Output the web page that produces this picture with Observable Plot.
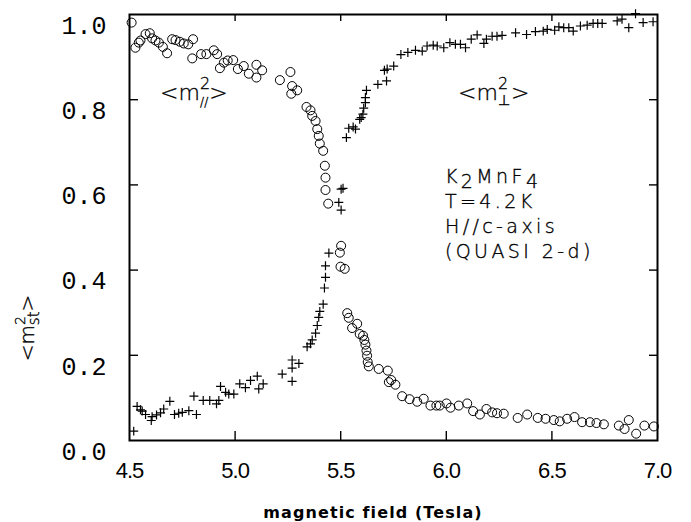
<!DOCTYPE html>
<html><head><meta charset="utf-8">
<script src="https://cdn.jsdelivr.net/npm/d3@7"></script>
<script src="https://cdn.jsdelivr.net/npm/@observablehq/plot@0.6"></script>
<style>
body{margin:0;background:#fff;}
</style></head><body><div id="chart"></div>
<script>
// tick values
const xTicks = [4.5, 5.0, 5.5, 6.0, 6.5, 7.0];
const yTicks = [0.0, 0.2, 0.4, 0.6, 0.8, 1.0];
const xInner = [5.0, 5.5, 6.0, 6.5];
const yInner = [0.2, 0.4, 0.6, 0.8];

// <m^2_par> (open circles)
const parX = [4.510,4.528,4.544,4.552,4.576,4.596,4.607,4.623,4.639,4.658,4.678,4.702,4.718,4.738,4.757,4.778,4.797,4.801,4.839,4.864,4.899,4.915,4.928,4.947,4.965,4.991,5.013,5.041,5.065,5.101,5.101,5.128,5.212,5.262,5.266,5.270,5.294,5.338,5.357,5.365,5.381,5.389,5.396,5.401,5.417,5.425,5.428,5.428,5.441,5.496,5.502,5.499,5.519,5.531,5.538,5.554,5.578,5.590,5.606,5.612,5.617,5.622,5.625,5.628,5.633,5.680,5.723,5.728,5.739,5.759,5.791,5.826,5.862,5.893,5.925,5.953,5.969,6.001,6.020,6.059,6.099,6.127,6.159,6.190,6.217,6.240,6.272,6.338,6.383,6.433,6.470,6.509,6.537,6.572,6.607,6.643,6.680,6.711,6.746,6.817,6.844,6.864,6.899,6.938,6.983];
const parY = [0.981,0.922,0.934,0.939,0.954,0.956,0.944,0.939,0.934,0.924,0.909,0.942,0.940,0.936,0.932,0.930,0.897,0.942,0.907,0.907,0.916,0.907,0.874,0.887,0.892,0.893,0.872,0.879,0.861,0.882,0.852,0.869,0.846,0.865,0.814,0.832,0.822,0.783,0.775,0.762,0.750,0.731,0.715,0.697,0.680,0.645,0.617,0.588,0.556,0.441,0.457,0.408,0.403,0.299,0.288,0.264,0.274,0.250,0.246,0.236,0.225,0.211,0.199,0.184,0.174,0.168,0.164,0.137,0.142,0.131,0.104,0.097,0.091,0.098,0.082,0.082,0.082,0.087,0.077,0.082,0.087,0.069,0.061,0.074,0.066,0.064,0.063,0.053,0.061,0.053,0.051,0.048,0.045,0.051,0.055,0.043,0.043,0.041,0.038,0.035,0.027,0.048,0.016,0.035,0.033];

// <m^2_perp> (plus signs)
const perpX = [4.520,4.536,4.552,4.560,4.576,4.603,4.607,4.628,4.647,4.662,4.691,4.713,4.733,4.750,4.781,4.805,4.817,4.849,4.880,4.912,4.923,4.931,4.955,4.970,4.994,5.022,5.049,5.073,5.105,5.112,5.133,5.223,5.270,5.270,5.270,5.302,5.341,5.357,5.365,5.381,5.389,5.396,5.401,5.417,5.423,5.428,5.428,5.444,5.491,5.502,5.502,5.511,5.527,5.538,5.559,5.570,5.590,5.597,5.605,5.609,5.617,5.617,5.622,5.676,5.707,5.717,5.720,5.751,5.785,5.818,5.854,5.886,5.909,5.938,5.957,5.988,6.017,6.043,6.067,6.091,6.118,6.146,6.178,6.190,6.217,6.240,6.264,6.328,6.380,6.422,6.459,6.478,6.513,6.533,6.556,6.580,6.601,6.635,6.667,6.695,6.717,6.738,6.809,6.832,6.864,6.896,6.932,6.979];
const perpY = [0.022,0.080,0.072,0.069,0.061,0.047,0.056,0.060,0.065,0.074,0.092,0.061,0.064,0.066,0.070,0.104,0.061,0.094,0.094,0.086,0.094,0.127,0.113,0.109,0.109,0.133,0.124,0.141,0.151,0.121,0.133,0.156,0.189,0.170,0.139,0.181,0.220,0.227,0.236,0.252,0.270,0.289,0.303,0.320,0.358,0.383,0.410,0.440,0.559,0.541,0.590,0.592,0.711,0.733,0.736,0.731,0.754,0.758,0.766,0.780,0.793,0.805,0.822,0.836,0.869,0.844,0.872,0.879,0.906,0.911,0.916,0.914,0.926,0.928,0.926,0.922,0.934,0.930,0.930,0.922,0.942,0.952,0.932,0.942,0.949,0.949,0.951,0.957,0.953,0.960,0.961,0.965,0.963,0.971,0.969,0.969,0.961,0.973,0.975,0.979,0.979,0.979,0.985,0.989,0.969,1.002,0.981,0.983];

const par = parX.map((x, i) => ({x, y: parY[i]}));
const perp = perpX.map((x, i) => ({x, y: perpY[i]}));

const W = 691, H = 522, mL = 129, mR = 34, mT = 14, mB = 82;
const fw = W - mL - mR, fh = H - mT - mB;
const fmt = d3.format(".1f");
const tickLine = {stroke: "black", strokeWidth: 1.4};
const plot = Plot.plot({
  width: W, height: H,
  marginLeft: mL, marginRight: mR, marginTop: mT, marginBottom: mB,
  x: {domain: [4.5, 7.0]},
  y: {domain: [0, 1.0]},
  marks: [
    // tick labels
    Plot.axisX({anchor: "bottom", ticks: xTicks, tickSize: 0, tickPadding: 22, tickFormat: fmt, label: null, fontSize: 22, fontFamily: "Liberation Sans", fill: "black"}),
    Plot.axisY({anchor: "left", ticks: yTicks, tickSize: 0, tickPadding: 23, tickFormat: fmt, label: null, fontSize: 25, fontFamily: "Liberation Mono", fill: "black"}),
    // data
    Plot.dot(par, {x: "x", y: "y", r: 4.5, stroke: "black", strokeWidth: 1, symbol: "circle"}),
    Plot.dot(perp, {x: "x", y: "y", r: 3, stroke: "black", strokeWidth: 1.2, symbol: "plus"}),
    // inward tick marks
    Plot.ruleX(xInner, {...tickLine, insetTop: fh - 9}),
    Plot.ruleX(xInner, {...tickLine, insetBottom: fh - 7}),
    Plot.ruleY(yInner, {...tickLine, insetRight: fw - 9}),
    Plot.ruleY(yInner, {...tickLine, insetLeft: fw - 8}),
    // frame
    Plot.frame({stroke: "black", strokeWidth: 2})
  ]
});
document.getElementById("chart").appendChild(plot);

const svg = d3.select(plot);
svg.selectAll('g[aria-label="y-axis tick label"] text').attr("dy", "0.45em");
svg.selectAll('g[aria-label="x-axis tick label"] text').attr("letter-spacing", "-1px");
const xs = plot.scale("x"), ys = plot.scale("y");

function rich(x, y, parts, attrs) {
  const t = svg.append("text").attr("x", x).attr("y", y).attr("fill", "black").attr("text-anchor", "start");
  for (const k in attrs) t.attr(k, attrs[k]);
  for (const p of parts) {
    const s = t.append("tspan").text(p.t);
    if (p.size) s.attr("font-size", p.size);
    if (p.dx) s.attr("dx", p.dx);
    if (p.dy) s.attr("dy", p.dy);
  }
  return t;
}
const thin = {"font-family": "DejaVu Sans", "font-weight": 200, "stroke": "black", "stroke-width": 0.35};

// component labels
rich(xs.apply(4.647), ys.apply(0.797), [
  {t: "<m"}, {t: "2", size: 16, dy: -11}, {t: "//", size: 12, dx: -10, dy: 17}, {t: ">", dx: 1, dy: -6}
], {...thin, "font-size": 22});
rich(xs.apply(6.058), ys.apply(0.797), [
  {t: "<m"}, {t: "2", size: 16, dy: -11}, {t: "⊥", size: 14, dx: -10, dy: 16}, {t: ">", dx: 1, dy: -5}
], {...thin, "font-size": 22});

// sample info block
const bx = xs.apply(5.996);
const info = {...thin, "font-size": 19, "letter-spacing": 3.4};
rich(bx, ys.apply(0.603), [{t: "K"}, {t: "2", dy: 5}, {t: "MnF", dy: -5}, {t: "4", dy: 5}], info);
rich(bx, ys.apply(0.544), [{t: "T=4.2K"}], info);
rich(bx, ys.apply(0.485), [{t: "H//c-axis"}], info);
rich(bx, ys.apply(0.427), [{t: "(QUASI 2-d)"}], info);

// y-axis label (rotated)
rich(0, 0, [
  {t: "<m"}, {t: "2", size: 14, dy: -9}, {t: "st", size: 15, dx: -9, dy: 14}, {t: ">", dy: -5}
], {...thin, "font-size": 20, "text-anchor": "middle", transform: "translate(34,328) rotate(-90)"});

// x-axis label
rich(373, 518, [{t: "magnetic field (Tesla)"}], {"font-family": "DejaVu Sans", "font-weight": "bold", "font-size": 16, "letter-spacing": 1.1, "text-anchor": "middle"});

// keep frame and ticks on top
svg.selectAll('g[aria-label="frame"], g[aria-label="rule"]').raise();
</script></body></html>
